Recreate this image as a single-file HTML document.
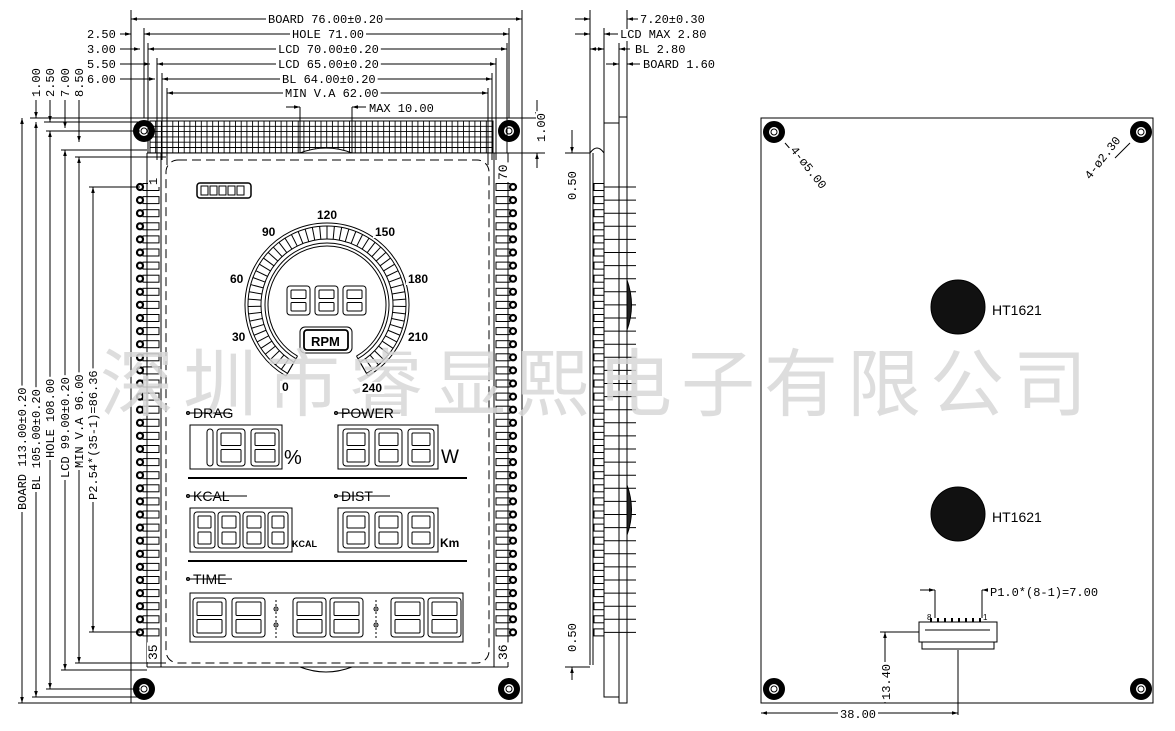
<!DOCTYPE html>
<html><head><meta charset="utf-8">
<style>
html,body{margin:0;padding:0;background:#fff;}
svg{display:block;}
text{font-family:"Liberation Sans",sans-serif;fill:#000;}
.m{font-family:"Liberation Mono","DejaVu Sans Mono",monospace;font-size:12px;}
</style></head>
<body>
<svg id="s" width="1175" height="731" viewBox="0 0 1175 731" xmlns="http://www.w3.org/2000/svg">
<defs>
<marker id="a" viewBox="0 0 10 10" refX="10" refY="5" markerWidth="8" markerHeight="6" orient="auto-start-reverse"><path d="M0,2 L10,5 L0,8 z" fill="#000"/></marker>
</defs>
<g id="g" stroke="#000" fill="none" stroke-width="1"></g>

<text x="100" y="410" style="font-family:'Liberation Sans','Noto Sans CJK SC',sans-serif;font-size:74px;letter-spacing:9px;fill:#d8d8d8;opacity:0.85">深圳市睿显熙电子有限公司</text>

<g id="bg"></g>
<g id="tx">
<text x="268" y="23" class="m">BOARD 76.00±0.20</text>
<text x="292" y="38" class="m">HOLE 71.00</text>
<text x="278" y="53" class="m">LCD 70.00±0.20</text>
<text x="278" y="68" class="m">LCD 65.00±0.20</text>
<text x="282" y="83" class="m">BL 64.00±0.20</text>
<text x="285" y="97" class="m">MIN V.A 62.00</text>
<text x="369" y="112" class="m">MAX 10.00</text>
<text x="87" y="38" class="m">2.50</text>
<text x="87" y="53" class="m">3.00</text>
<text x="87" y="68" class="m">5.50</text>
<text x="87" y="83" class="m">6.00</text>
<text class="m" transform="translate(40,97) rotate(-90)">1.00</text>
<text class="m" transform="translate(54,97) rotate(-90)">2.50</text>
<text class="m" transform="translate(69,97) rotate(-90)">7.00</text>
<text class="m" transform="translate(83,97) rotate(-90)">8.50</text>
<text class="m" transform="translate(545,142) rotate(-90)">1.00</text>
<text class="m" transform="translate(26,510) rotate(-90)">BOARD 113.00±0.20</text>
<text class="m" transform="translate(40,490) rotate(-90)">BL 105.00±0.20</text>
<text class="m" transform="translate(54,458) rotate(-90)">HOLE 108.00</text>
<text class="m" transform="translate(69,478) rotate(-90)">LCD 99.00±0.20</text>
<text class="m" transform="translate(83,468) rotate(-90)">MIN V.A 96.00</text>
<text class="m" transform="translate(97,500) rotate(-90)">P2.54*(35-1)=86.36</text>
<text x="640" y="23" class="m">7.20±0.30</text>
<text x="620" y="38" class="m">LCD MAX 2.80</text>
<text x="635" y="53" class="m">BL 2.80</text>
<text x="643" y="68" class="m">BOARD 1.60</text>
<text class="m" transform="translate(576,200) rotate(-90)">0.50</text>
<text class="m" transform="translate(576,652) rotate(-90)">0.50</text>
<text class="m" transform="translate(157,185) rotate(-90)">1</text>
<text class="m" style="font-size:13px" transform="translate(507,180) rotate(-90)">70</text>
<text class="m" style="font-size:13px" transform="translate(157,660) rotate(-90)">35</text>
<text class="m" style="font-size:13px" transform="translate(507,660) rotate(-90)">36</text>
<text x="990" y="596" class="m">P1.0*(8-1)=7.00</text>
<text x="927" y="620" style="font-size:8px">8</text>
<text x="983" y="620" style="font-size:8px">1</text>
<text class="m" transform="translate(890,700) rotate(-90)">13.40</text>
<text x="840" y="718" class="m">38.00</text>
<text class="m" transform="translate(790,150) rotate(52)">4-ø5.00</text>
<text class="m" transform="translate(1090,180) rotate(-52)">4-ø2.30</text>
<text x="992" y="315" style="font-size:14px">HT1621</text>
<text x="992" y="522" style="font-size:14px">HT1621</text>
<g style="font-size:12px;font-weight:bold">
<text x="317" y="219" class="k">120</text>
<text x="262" y="236" class="k">90</text>
<text x="375" y="236" class="k">150</text>
<text x="230" y="283" class="k">60</text>
<text x="408" y="283" class="k">180</text>
<text x="232" y="341" class="k">30</text>
<text x="408" y="341" class="k">210</text>
<text x="282" y="391" class="k">0</text>
<text x="362" y="392" class="k">240</text>
<text x="311" y="346" style="font-size:13px">RPM</text>
<text x="193" y="418" style="font-size:14px;font-weight:normal">DRAG</text>
<text x="341" y="418" style="font-size:14px;font-weight:normal">POWER</text>
<text x="193" y="501" style="font-size:14px;font-weight:normal">KCAL</text>
<text x="341" y="501" style="font-size:14px;font-weight:normal">DIST</text>
<text x="193" y="584" style="font-size:14px;font-weight:normal">TIME</text>
<text x="284" y="464" style="font-size:20px;font-weight:normal">%</text>
<text x="441" y="463" style="font-size:19px;font-weight:normal">W</text>
<text x="292" y="547" style="font-size:9px">KCAL</text>
<text x="440" y="547" style="font-size:12px">Km</text>
</g>
</g>
</svg>
<script>
var g=document.getElementById('g');var NS='http://www.w3.org/2000/svg';
function el(t,a,p){var e=document.createElementNS(NS,t);for(var k in a)e.setAttribute(k,a[k]);(p||g).appendChild(e);return e;}
function L(x1,y1,x2,y2,o){var a={x1:x1,y1:y1,x2:x2,y2:y2};for(var k in o)a[k]=o[k];return el('line',a);}
function R(x,y,w,h,o){var a={x:x,y:y,width:w,height:h};for(var k in o)a[k]=o[k];return el('rect',a);}
function C(x,y,r,o){var a={cx:x,cy:y,r:r};for(var k in o)a[k]=o[k];return el('circle',a);}
var arr={'marker-end':'url(#a)','marker-start':'url(#a)'};
var arrE={'marker-end':'url(#a)'};
R(131,118,391,585);R(761,118,392,585);
function hole(x,y){C(x,y,8,{'stroke-width':6});C(x,y,3,{'stroke-width':1});}
[[144,131],[509,131],[144,689],[509,689],[774,132],[1141,132],[774,689],[1141,689]].forEach(function(p){hole(p[0],p[1]);});
R(150,121,343,32);
for(var x=150;x<=493;x+=5.7)L(x,121,x,153,{'stroke-width':0.9});
for(var y=121;y<=153;y+=5.3)L(150,y,493,y,{'stroke-width':0.9});
el('path',{d:'M300,153 Q326,143 352,153',fill:'#fff'});
L(147,153,508,153);L(147,667,508,667);
L(147,153,147,667);L(161,153,161,667);L(494,153,494,667);L(508,153,508,667);
el('path',{d:'M300,667 Q326,677 352,667'});
el('rect',{x:166,y:160,width:323,height:503,rx:12,'stroke-dasharray':'9,5'});
for(var i=0;i<35;i++){var y=187+i*13.1;
 C(140,y,3,{'stroke-width':2.2});R(143,y-3.5,16,7);
 C(513,y,3,{'stroke-width':2.2});R(496,y-3.5,14,7);
 R(594,y-3.5,10,7);L(604,y,636,y);}
R(619,117,8,586);R(604,123,15,574);
el('path',{d:'M590,665 L590,153 Q597,143 604,153 L604,665'});L(593,153,593,665);
el('path',{d:'M627,280 Q636,305 627,330 Z',fill:'#222'});
el('path',{d:'M627,485 Q636,510 627,535 Z',fill:'#222'});
C(958,307,27,{fill:'#111'});C(958,514,27,{fill:'#111'});
R(919,622,78,20);R(922,642,72,7);L(925,630,990,630);
for(var k=0;k<8;k++)L(931+k*7,618,931+k*7,622,{'stroke-width':2});
L(935,590,935,618);L(982,590,982,618);L(920,590,935,590,arrE);L(997,590,982,590,arrE);
L(958,650,958,715);L(761,713,958,713,arr);L(880,632,919,632);L(885,632,885,703,arr);
L(785,143,800,160);L(1130,143,1115,158);
L(131,19,522,19,arr);L(144,34,509,34,arr);L(148,49,507,49,arr);L(157,64,496,64,arr);L(162,79,492,79,arr);L(167,93,488,93,arr);
L(131,10,131,118);L(522,10,522,118);L(144,28,144,118);L(509,28,509,118);L(148,43,148,153);L(507,43,507,153);
L(157,58,157,160);L(496,58,496,160);L(162,73,162,160);L(492,73,492,160);L(167,88,167,165);L(488,88,488,165);
L(286,107,300,107,arrE);L(366,107,352,107,arrE);L(300,107,300,153);L(352,107,352,153);
L(120,34,131,34,arrE);L(120,49,140,49,arrE);L(120,64,150,64,arrE);L(120,79,155,79,arrE);
L(30,118,131,118);L(44,122,150,122);
L(36,100,36,118,arrE);L(50,100,50,122,arrE);L(65,100,65,128,arrE);L(79,100,79,142,arrE);
L(537,100,537,118,arrE);L(537,168,537,153,arrE);L(522,118,545,118);L(508,153,545,153);
L(22,118,22,703,arr);L(36,122,36,697,arr);L(50,131,50,689,arr);L(65,150,65,670,arr);L(79,157,79,663,arr);L(93,187,93,632,arr);
L(18,703,131,703);L(32,697,147,697);L(46,689,140,689);L(46,131,140,131);L(61,150,147,150);L(61,670,147,670);L(75,157,166,157);L(75,663,166,663);L(89,187,140,187);L(89,632,140,632);
L(575,19,590,19,arrE);L(640,19,627,19,arrE);L(575,34,590,34,arrE);L(618,34,604,34,arrE);
L(590,49,604,49,arr);L(606,64,619,64,arrE);L(640,64,627,64,arrE);L(630,49,619,49,arrE);
L(590,10,590,153);L(627,10,627,117);L(604,28,604,123);L(619,43,619,117);
L(565,153,590,153);L(572,130,572,153,arrE);L(572,680,572,667,arrE);L(565,667,590,667);
var cx=327,cy=305;
function arcP(r,a0,a1){var p0=[cx+r*Math.cos(a0),cy+r*Math.sin(a0)],p1=[cx+r*Math.cos(a1),cy+r*Math.sin(a1)];return 'M'+p0+' A'+r+','+r+' 0 1 1 '+p1;}
var a0=120*Math.PI/180,a1=60*Math.PI/180;
[82,79,66,62,59].forEach(function(r){el('path',{d:arcP(r,a0,a1)});});
for(var t=0;t<=56;t++){var a=a0+t*(300/56)*Math.PI/180;L(cx+66*Math.cos(a),cy+66*Math.sin(a),cx+79*Math.cos(a),cy+79*Math.sin(a));}
L(cx+59*Math.cos(a0),cy+59*Math.sin(a0),cx+82*Math.cos(a0),cy+82*Math.sin(a0));
L(cx+59*Math.cos(a1),cy+59*Math.sin(a1),cx+82*Math.cos(a1),cy+82*Math.sin(a1));
function D(x,y,w,h){R(x,y,w,h,{rx:3});R(x+4,y+4,w-8,h/2-6,{rx:1});R(x+4,y+h/2+2,w-8,h/2-6,{rx:1});}
D(287,286,23,29);D(315,286,23,29);D(343,286,23,29);
R(300,327,52,26,{rx:5});R(304,330,44,20,{rx:3,'stroke-width':1.8});
R(197,183,54,15,{rx:3,'stroke-width':1.5});for(var k=0;k<5;k++)R(201+k*9,186,7,9);
R(190,425,92,44);R(207,429,6,37,{rx:3});D(217,429,28,37);D(251,429,28,37);
R(338,425,100,44);D(343,429,26,37);D(375,429,27,37);D(408,429,26,37);
L(188,478,467,478,{'stroke-width':2});
R(190,508,102,44);D(194,512,21,36);D(218,512,22,36);D(243,512,22,36);D(268,512,20,36);
R(338,508,100,44);D(343,512,26,36);D(375,512,27,36);D(408,512,26,36);
L(188,561,467,561,{'stroke-width':2});
R(190,593,273,49);[193,232,293,330,391,428].forEach(function(x){D(x,598,33,39);});
[276,376].forEach(function(x){C(x,609,2);C(x,625,2);L(x,600,x,640,{'stroke-dasharray':'2,2'});});
[[186,413,230],[334,413,400],[186,496,247],[334,496,390],[186,579,232]].forEach(function(p){C(p[0]+2,p[1],1.5);L(p[0],p[1],p[2],p[1]);});
// white backgrounds behind labels
var bg=document.getElementById('bg');
Array.prototype.forEach.call(document.querySelectorAll('text.m, text.k'),function(t){
 try{var b=t.getBBox();var r=el('rect',{x:b.x-2,y:b.y+1,width:b.width+4,height:b.height-2,fill:'#fff'},bg);
 var tr=t.getAttribute('transform');if(tr)r.setAttribute('transform',tr);}catch(e){}
});
</script>
</body></html>
